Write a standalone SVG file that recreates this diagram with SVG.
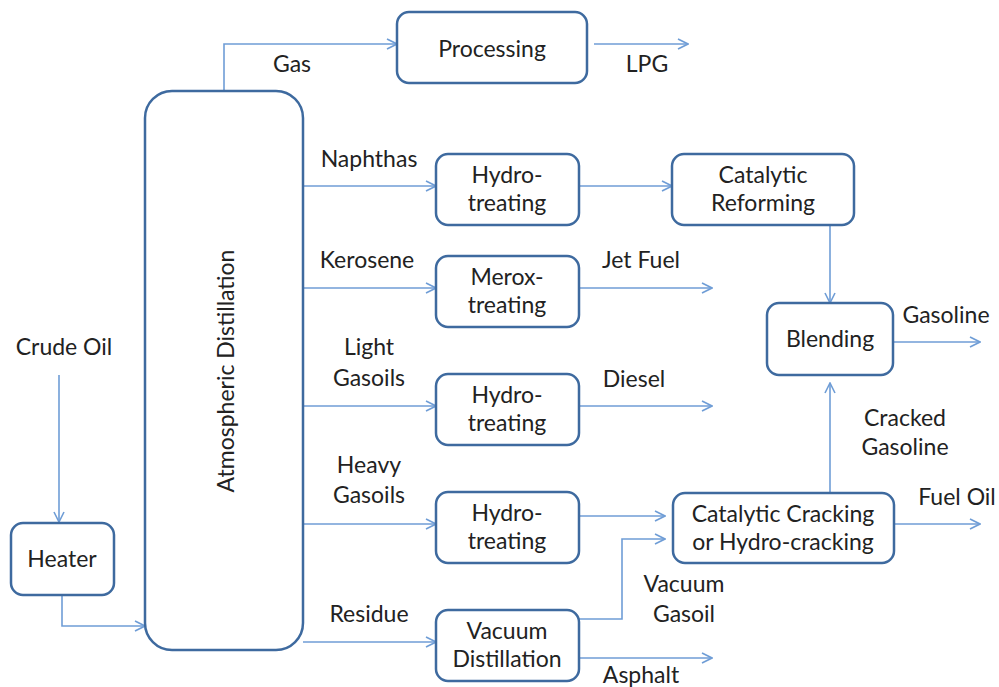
<svg xmlns="http://www.w3.org/2000/svg" width="999" height="687" viewBox="0 0 999 687">
<defs>
<marker id="arr" markerUnits="userSpaceOnUse" markerWidth="12" markerHeight="12" viewBox="0 0 12 12" refX="11" refY="6" orient="auto">
<path d="M1,1 L11,6 L1,11" fill="none" stroke="#6F9DD6" stroke-width="1.6"/>
</marker>
</defs>
<style>
.box{fill:#fff;stroke:#3E6A9F;stroke-width:2.5}
.t{font-family:Lato,"Liberation Sans",sans-serif;font-size:23px;fill:#222;text-anchor:middle}
.c{fill:none;stroke:#6F9DD6;stroke-width:1.6;marker-end:url(#arr)}
</style>
<rect width="999" height="687" fill="#fff"/>
<g id="connectors">
<path class="c" d="M224,91 V44 H397"/>
<path class="c" d="M594,44 H688"/>
<path class="c" d="M303,186 H436"/>
<path class="c" d="M579,186 H672"/>
<path class="c" d="M830,225 V303"/>
<path class="c" d="M303,288 H436"/>
<path class="c" d="M579,288 H712"/>
<path class="c" d="M303,406 H436"/>
<path class="c" d="M579,406 H712"/>
<path class="c" d="M893,342 H980"/>
<path class="c" d="M303,524 H436"/>
<path class="c" d="M579,516 H665"/>
<path class="c" d="M579,619 H622 V539 H665"/>
<path class="c" d="M830,493 V383"/>
<path class="c" d="M894,524 H980"/>
<path class="c" d="M303,642 H436"/>
<path class="c" d="M579,658 H712"/>
<path class="c" d="M59,375 V522"/>
<path class="c" d="M62,595 V626 H145"/>
</g>
<g id="labels">
<text class="t" x="292" y="72">Gas</text>
<text class="t" x="647" y="72">LPG</text>
<text class="t" x="369" y="167">Naphthas</text>
<text class="t" x="367" y="268">Kerosene</text>
<text class="t" x="641" y="268">Jet Fuel</text>
<text class="t" x="369" y="355">Light</text>
<text class="t" x="369" y="386">Gasoils</text>
<text class="t" x="634" y="387">Diesel</text>
<text class="t" x="369" y="473">Heavy</text>
<text class="t" x="369" y="503">Gasoils</text>
<text class="t" x="369" y="622">Residue</text>
<text class="t" x="684" y="592">Vacuum</text>
<text class="t" x="684" y="622">Gasoil</text>
<text class="t" x="641" y="683">Asphalt</text>
<text class="t" x="946" y="323">Gasoline</text>
<text class="t" x="905" y="426">Cracked</text>
<text class="t" x="905" y="455">Gasoline</text>
<text class="t" x="957" y="505">Fuel Oil</text>
<text class="t" x="64" y="355">Crude Oil</text>
</g>
<g id="atmospheric-distillation">
<rect class="box" x="145" y="91" width="158" height="559" rx="27"/>
<text class="t" transform="translate(234,371) rotate(-90)">Atmospheric Distillation</text>
</g>
<g id="processing">
<rect class="box" x="397" y="12" width="190" height="71" rx="12"/>
<text class="t" x="492" y="57">Processing</text>
</g>
<g id="hydrotreating-1">
<rect class="box" x="436" y="154" width="143" height="71" rx="12"/>
<text class="t" x="507" y="183">Hydro-</text>
<text class="t" x="507" y="211">treating</text>
</g>
<g id="catalytic-reforming">
<rect class="box" x="672" y="154" width="182" height="71" rx="12"/>
<text class="t" x="763" y="183">Catalytic</text>
<text class="t" x="763" y="211">Reforming</text>
</g>
<g id="merox-treating">
<rect class="box" x="436" y="256" width="143" height="71" rx="12"/>
<text class="t" x="507" y="285">Merox-</text>
<text class="t" x="507" y="313">treating</text>
</g>
<g id="hydrotreating-2">
<rect class="box" x="436" y="374" width="143" height="71" rx="12"/>
<text class="t" x="507" y="403">Hydro-</text>
<text class="t" x="507" y="431">treating</text>
</g>
<g id="hydrotreating-3">
<rect class="box" x="436" y="492" width="143" height="71" rx="12"/>
<text class="t" x="507" y="521">Hydro-</text>
<text class="t" x="507" y="549">treating</text>
</g>
<g id="vacuum-distillation">
<rect class="box" x="436" y="610" width="143" height="71" rx="12"/>
<text class="t" x="507" y="639">Vacuum</text>
<text class="t" x="507" y="667">Distillation</text>
</g>
<g id="blending">
<rect class="box" x="767" y="303" width="126" height="72" rx="12"/>
<text class="t" x="830" y="347">Blending</text>
</g>
<g id="catalytic-cracking">
<rect class="box" x="673" y="493" width="221" height="70" rx="12"/>
<text class="t" x="783" y="522">Catalytic Cracking</text>
<text class="t" x="783" y="550">or Hydro-cracking</text>
</g>
<g id="heater">
<rect class="box" x="11" y="523" width="103" height="72" rx="12"/>
<text class="t" x="62" y="567">Heater</text>
</g>
</svg>
